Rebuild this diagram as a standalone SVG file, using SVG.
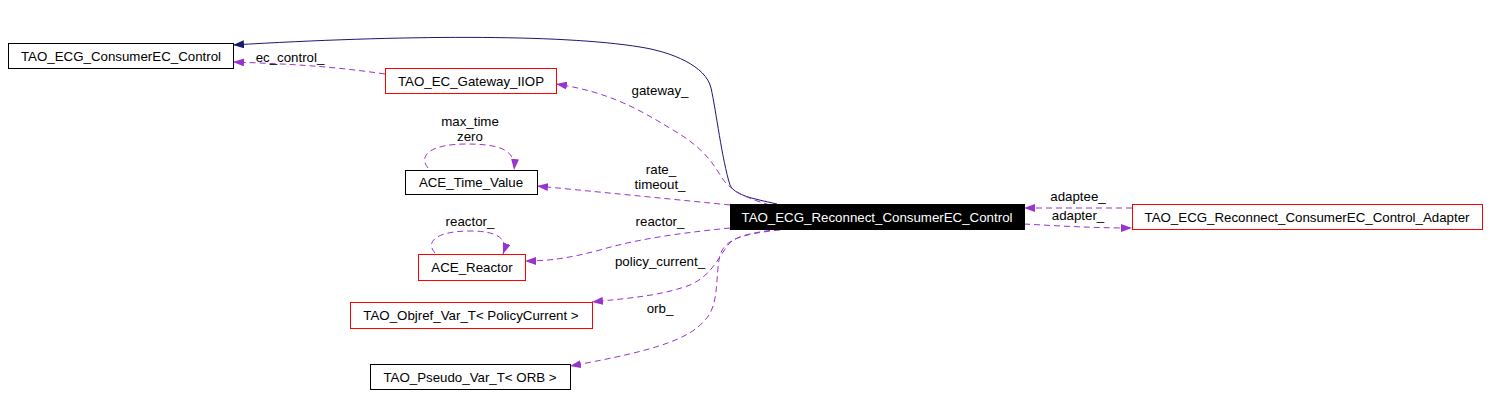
<svg xmlns="http://www.w3.org/2000/svg" width="1490" height="407" viewBox="0 0 1490 407">
<style>
.box{fill:#fff;stroke:#000;stroke-width:1}
.red{fill:#fff;stroke:#ff0000;stroke-width:1}
.blk{fill:#000;stroke:#000;stroke-width:1}
text{font-family:"Liberation Sans",Arial,sans-serif;font-size:13.3px;fill:#000;text-anchor:middle}
.w{fill:#fff}
.e{fill:none;stroke:#9a32cd;stroke-width:1;stroke-dasharray:6,4;marker-end:url(#ap)}
.b{fill:none;stroke:#191970;stroke-width:1;marker-end:url(#ab)}
</style>
<defs>
<marker id="ap" markerUnits="userSpaceOnUse" markerWidth="11" markerHeight="8" refX="11" refY="4" orient="auto"><path d="M0,0 L11,4 L0,8 z" fill="#9a32cd"/></marker>
<marker id="ab" markerUnits="userSpaceOnUse" markerWidth="11" markerHeight="8" refX="11" refY="4" orient="auto"><path d="M0,0 L11,4 L0,8 z" fill="#191970"/></marker>
</defs>
<rect width="1490" height="407" fill="#fff"/>
<g id="edges">
<path class="b" d="M777,204 C750,198 735,195 730,185 C722,160 716,110 711,88 C706,66 672,52 640,47 C560,34 400,35 233,45"/>
<path class="e" d="M385,74 C330,66 290,64 233,62"/>
<text x="290" y="62">ec_control_</text>
<path class="e" d="M770,205 C745,198 730,190 722,178 C710,158 700,146 673,130 C640,110 610,92 556,84"/>
<text x="660" y="95">gateway_</text>
<path class="e" d="M730,205 C680,200 620,194 537,186"/>
<text x="661" y="174">rate_</text>
<text x="660" y="189">timeout_</text>
<path class="e" d="M428,168 C418,156 430,144 466,144 C500,144 516,150 514,170"/>
<text x="470" y="126">max_time</text>
<text x="470" y="141">zero</text>
<path class="e" d="M730,228 C690,232 640,238 600,250 C570,258 550,261 525,261"/>
<text x="660" y="226">reactor_</text>
<path class="e" d="M435,253 C424,240 440,231 470,231 C500,231 508,240 503,254"/>
<text x="470" y="226">reactor_</text>
<path class="e" d="M780,229 C750,233 735,236 728,245 C718,258 712,275 690,285 C660,296 630,298 592,302"/>
<text x="660" y="266">policy_current_</text>
<path class="e" d="M780,230 C740,234 725,240 720,255 C715,275 720,305 705,320 C690,338 660,350 570,366"/>
<text x="660" y="313">orb_</text>
<path class="e" d="M1132,208 L1024,208"/>
<text x="1078" y="201">adaptee_</text>
<path class="e" d="M1024,224 C1060,226 1095,228 1132,228"/>
<text x="1078" y="220">adapter_</text>
</g>
<g id="n_consumer"><rect class="box" x="8.5" y="43.5" width="225" height="25"/><text x="121" y="61">TAO_ECG_ConsumerEC_Control</text></g>
<g id="n_gateway"><rect class="red" x="385.5" y="68.5" width="171" height="25"/><text x="471" y="86">TAO_EC_Gateway_IIOP</text></g>
<g id="n_timevalue"><rect class="box" x="405.5" y="170.5" width="132" height="24"/><text x="471" y="187">ACE_Time_Value</text></g>
<g id="n_reactor"><rect class="red" x="418.5" y="254.5" width="107" height="26"/><text x="472" y="272">ACE_Reactor</text></g>
<g id="n_objref"><rect class="red" x="350.5" y="302.5" width="242" height="26"/><text x="471" y="320">TAO_Objref_Var_T&lt; PolicyCurrent &gt;</text></g>
<g id="n_pseudo"><rect class="box" x="370.5" y="364.5" width="200" height="25"/><text x="470" y="382">TAO_Pseudo_Var_T&lt; ORB &gt;</text></g>
<g id="n_reconnect"><rect class="blk" x="730.5" y="204.5" width="294" height="25"/><text class="w" x="877" y="222">TAO_ECG_Reconnect_ConsumerEC_Control</text></g>
<g id="n_adapter"><rect class="red" x="1132.5" y="204.5" width="350" height="25"/><text x="1307" y="222">TAO_ECG_Reconnect_ConsumerEC_Control_Adapter</text></g>
</svg>
